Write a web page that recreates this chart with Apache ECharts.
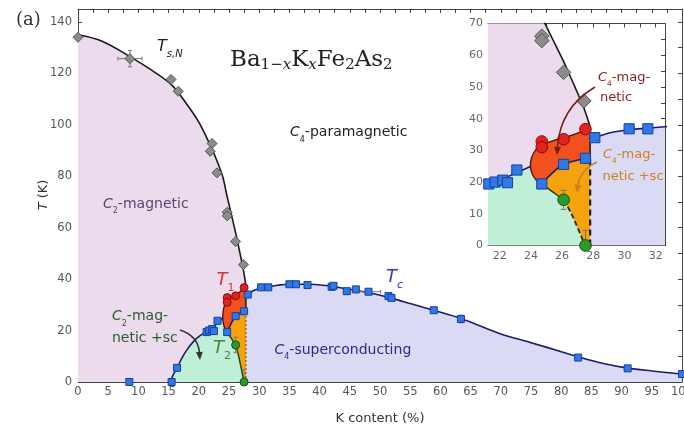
<!DOCTYPE html>
<html>
<head>
<meta charset="utf-8">
<script src="https://cdn.jsdelivr.net/npm/echarts@6/dist/echarts.min.js"></script>
<style>
html, body { margin: 0; padding: 0; background: #fff; }
#chart { width: 684px; height: 425px; }
</style>
</head>
<body>
<div id="chart"></div>
<script>
// Phase diagram of Ba(1-x)K(x)Fe2As2: K content (%) against temperature (K)

// ---- measured transition temperatures ----
// T_s,N (structural / magnetic), grey diamonds
const tsnPoints = [[0,134],[8.6,125.7],[15.4,117.6],[16.6,113],[22.2,92.7],[21.9,89.7],[23,81.3],[24.7,66],[24.7,64.6],[26.1,54.6],[27.4,45.6]];
// T_c (superconducting), blue squares
const tcPoints = [[8.5,0],[15.5,0],[16.4,5.5],[21.3,19.4],[21.7,20],[22.2,20.6],[22.5,19.8],[23.1,23.8],[24.7,19.4],[26.1,25.6],[27.5,27.5],[28.1,34],[30.3,36.8],[31.5,36.8],[35,38],[36.1,38],[38,37.7],[42,37],[42.3,37.4],[44.5,35.3],[46,36],[48.1,35.1],[51.4,33.4],[51.9,32.7],[58.9,27.9],[63.4,24.5],[82.8,9.5],[91,5.3],[100,3.1]];
// T_1 (entry into the C4 magnetic phase), red circles
const t1Points = [[24.7,32.8],[24.7,31],[26.1,33.5],[27.5,36.7]];
// T_2 (exit of the C4 magnetic phase), green circles
const t2Points = [[26.1,14.4],[27.5,0]];
// error bars: [x, T, x error, T error]
const errorBars = [[8.6,125.7,2,3.2],[48.1,35.1,2,0],[63.4,24.5,0,1.5],[26.1,14.4,0,3],[27.5,0,0,4.8]];

// ---- phase boundaries ----
const tsnCurve = [[0,135],[4,132.5],[8.6,126.5],[12,121.5],[15.5,115.5],[18,108],[20,101],[22,91.5],[23,86],[24,79.5],[24.6,73],[25.1,68],[25.6,63],[26.1,58],[26.6,52.5],[27,48],[27.35,44],[27.6,40.5],[27.8,37.3]];
const tcLeftCurve = [[15.3,0],[15.7,2.5],[16.4,5.5],[17.2,9.3],[18,12.4],[19.1,15.7],[20.2,18],[21.3,19.6],[22.2,21],[23.1,23],[23.97,24.9]];
const tcMidCurve = [[24.7,19.4],[25.3,22.5],[26.1,25.6],[27.5,27.5],[27.8,28]];
const tcRightCurve = [[27.8,33.5],[28.1,34],[29,35.5],[30.3,36.5],[31.5,37],[33,37.6],[35,38],[38,38],[41,37.5],[44,36.4],[48,34.8],[52,32.5],[55,30.5],[59,27.8],[63.4,24.7],[70,18.7],[75,15.3],[80,11.8],[82.8,9.8],[87,7.2],[91,5.4],[95,4.3],[100,3.1]];
const t1Curve = [[24.7,19.4],[24.32,20.7],[24.07,22.8],[23.97,24.9],[24.03,27.5],[24.32,30.2],[24.7,31.7],[25.58,33.3],[26.4,34.4],[27.25,35.9],[27.6,36.7],[27.8,37.3]];
const t2Curve = [[24.7,19.4],[25.4,16.9],[26.1,14.4],[26.6,10],[27.05,5],[27.3,2],[27.45,0]];
const orthoEdgeLower = [[27.8,0],[27.8,28]];
const orthoEdgeUpper = [[27.8,28],[27.8,37.3]];

// ---- tick values ----
const mainXLabels = [0,5,10,15,20,25,30,35,40,45,50,55,60,65,70,75,80,85,90,95,100];
const mainXTicks = [0,2.5,5,7.5,10,12.5,15,17.5,20,22.5,25,27.5,30,32.5,35,37.5,40,42.5,45,47.5,50,52.5,55,57.5,60,62.5,65,67.5,70,72.5,75,77.5,80,82.5,85,87.5,90,92.5,95,97.5,100];
const mainYLabels = [0,20,40,60,80,100,120,140];
const mainYTicks = [0,10,20,30,40,50,60,70,80,90,100,110,120,130,140];
const insetXLabels = [22,24,26,28,30,32];
const insetXTicks = [22,23,24,25,26,27,28,29,30,31,32];
const insetYLabels = [0,10,20,30,40,50,60,70];
const insetYTicks = [0,5,10,15,20,25,30,35,40,45,50,55,60,65,70];

// ---- region outlines built from the boundaries ----
const pinkRegion = tsnCurve.concat([[27.8,0],[0,0]]);
const blueRegion = [[27.8,0]].concat(tcRightCurve, [[100,0]]);
const greenRegion = tcLeftCurve.concat(t1Curve.slice(1,3).reverse(), t2Curve);
const redRegion = t1Curve.concat([[27.8,28]], tcMidCurve.slice(0,4).reverse());
const orangeRegion = tcMidCurve.concat([[27.8,0]], t2Curve.slice().reverse());

const SANS = "'DejaVu Sans', sans-serif";
const SERIF = "'DejaVu Serif', serif";

const C = {
  pink: '#ebdbec', lavender: '#dadaf4', mint: '#bfefd6', red: '#f2501e', orange: '#f5a20c',
  navy: '#1c1c6e', squareFill: '#2f78e6', squareEdge: '#163f9c',
  diamondFill: '#8c8c8c', diamondEdge: '#555', redFill: '#e0231c', redEdge: '#8a0a0a',
  greenFill: '#2a9a2a', greenEdge: '#145214'
};

function polygonSeries(pts, color, ax, z) {
  return {
    type: 'custom', xAxisIndex: ax, yAxisIndex: ax, z: z, silent: true, clip: true,
    data: pts, encode: { x: 0, y: 1 },
    renderItem: function (params, api) {
      if (params.dataIndex !== 0) return null;
      return { type: 'polygon', shape: { points: pts.map(function (p) { return api.coord(p); }) }, style: { fill: color } };
    }
  };
}
function curveSeries(pts, color, width, ax, extra) {
  return Object.assign({
    type: 'line', data: pts, xAxisIndex: ax, yAxisIndex: ax, smooth: 0.35, symbol: 'none',
    lineStyle: { color: color, width: width }, z: 4, silent: true
  }, extra || {});
}
function markerSeries(pts, symbol, size, fill, edge, ax) {
  return {
    type: 'scatter', data: pts, xAxisIndex: ax, yAxisIndex: ax, symbol: symbol, symbolSize: size,
    itemStyle: { color: fill, borderColor: edge, borderWidth: 1, opacity: 1 }, z: 6, silent: true
  };
}
function errorSeries(ax, cap) {
  return {
    type: 'custom', xAxisIndex: ax, yAxisIndex: ax, z: 5, silent: true, clip: true,
    data: errorBars, encode: { x: 0, y: 1 },
    renderItem: function (params, api) {
      const x = api.value(0), y = api.value(1), ex = api.value(2), ey = api.value(3);
      const kids = [];
      const st = { stroke: '#777', lineWidth: 1 };
      if (ex > 0) {
        const a = api.coord([x - ex, y]), b = api.coord([x + ex, y]);
        kids.push({ type: 'line', shape: { x1: a[0], y1: a[1], x2: b[0], y2: b[1] }, style: st });
        kids.push({ type: 'line', shape: { x1: a[0], y1: a[1] - cap, x2: a[0], y2: a[1] + cap }, style: st });
        kids.push({ type: 'line', shape: { x1: b[0], y1: b[1] - cap, x2: b[0], y2: b[1] + cap }, style: st });
      }
      if (ey > 0) {
        const a = api.coord([x, y - ey]), b = api.coord([x, y + ey]);
        kids.push({ type: 'line', shape: { x1: a[0], y1: a[1], x2: b[0], y2: b[1] }, style: st });
        kids.push({ type: 'line', shape: { x1: a[0] - cap, y1: a[1], x2: a[0] + cap, y2: a[1] }, style: st });
        kids.push({ type: 'line', shape: { x1: b[0] - cap, y1: b[1], x2: b[0] + cap, y2: b[1] }, style: st });
      }
      return { type: 'group', children: kids };
    }
  };
}

function phaseSeries(ax, inset) {
  const k = inset ? 1.45 : 1;
  const list = [
    polygonSeries(pinkRegion, C.pink, ax, 1),
    polygonSeries(blueRegion, C.lavender, ax, 1),
    polygonSeries(greenRegion, C.mint, ax, 2),
    polygonSeries(redRegion, C.red, ax, 2),
    polygonSeries(orangeRegion, C.orange, ax, 2),
    curveSeries(tsnCurve, '#1a1a1a', 1.6, ax),
    curveSeries(tcLeftCurve, C.navy, 1.6, ax),
    curveSeries(tcMidCurve, C.navy, 1.6, ax),
    curveSeries(tcRightCurve, C.navy, 1.6, ax),
    curveSeries(t1Curve, '#3a1414', 1.3, ax),
    curveSeries(orthoEdgeUpper, '#1a1a1a', 1.5, ax, { smooth: false })
  ];
  if (inset) {
    list.push(curveSeries(t2Curve.slice(0, 3), '#1f3a1f', 1.5, ax));
    list.push(curveSeries(t2Curve.slice(2), '#1f3a1f', 1.8, ax, { lineStyle: { color: '#1f2a1f', width: 1.8, type: [5, 3] } }));
    list.push(curveSeries(orthoEdgeLower, '#1a1a1a', 2, ax, { smooth: false, lineStyle: { color: '#1a1a1a', width: 2.2, type: [6, 4] } }));
  } else {
    list.push(curveSeries(t2Curve, '#1f4a1f', 1.5, ax));
    list.push(curveSeries(orthoEdgeLower, '#b06a10', 1.3, ax, { smooth: false, lineStyle: { color: '#9a5a10', width: 1.3, type: [2, 2] } }));
  }
  list.push(errorSeries(ax, inset ? 3 : 2));
  list.push(markerSeries(tsnPoints, 'diamond', 10 * k, C.diamondFill, C.diamondEdge, ax));
  list.push(markerSeries(tcPoints, 'rect', 7 * k, C.squareFill, C.squareEdge, ax));
  list.push(markerSeries(t1Points, 'circle', 8 * k, C.redFill, C.redEdge, ax));
  list.push(markerSeries(t2Points, 'circle', 8 * k, C.greenFill, C.greenEdge, ax));
  return list;
}

function axisPair(grid, pos, min, max, labels, ticks, showLabel, labelOpts) {
  return {
    type: 'value', gridIndex: grid, position: pos, min: min, max: max,
    axisLine: { show: true, onZero: false, lineStyle: { color: '#444', width: 1 } },
    axisTick: { show: true, inside: true, length: 4, customValues: ticks, lineStyle: { color: '#444' } },
    axisLabel: Object.assign({ show: showLabel, customValues: labels, color: '#555', fontFamily: SANS, fontSize: 11 }, labelOpts || {}),
    splitLine: { show: false }, minorTick: { show: false }
  };
}

// rich text with italic letters and lowered subscripts
function richStyles(fs, color, subFs, subDrop, family) {
  family = family || SANS;
  return {
    n: { fontSize: fs, fontFamily: family, fill: color, lineHeight: fs },
    i: { fontSize: fs, fontFamily: family, fill: color, fontStyle: 'italic', lineHeight: fs },
    s: { fontSize: subFs, fontFamily: family, fill: color, lineHeight: subFs, padding: [subDrop * 2, 0, 0, 0] },
    si: { fontSize: subFs, fontFamily: family, fill: color, fontStyle: 'italic', lineHeight: subFs, padding: [subDrop * 2, 0, 0, 0] }
  };
}
function textEl(x, y, text, fs, color, subFs, subDrop, family) {
  return {
    type: 'text', x: x, y: y, z: 100, silent: true,
    style: { text: text, rich: richStyles(fs, color, subFs, subDrop, family), verticalAlign: 'middle', align: 'left' }
  };
}
function arrow(x1, y1, cx, cy, x2, y2, color) {
  const ang = Math.atan2(y2 - cy, x2 - cx);
  const L = 8, W = 3.5;
  const bx = x2 - L * Math.cos(ang), by = y2 - L * Math.sin(ang);
  const px = -Math.sin(ang) * W, py = Math.cos(ang) * W;
  return [
    { type: 'bezierCurve', z: 100, silent: true, shape: { x1: x1, y1: y1, cpx1: cx, cpy1: cy, x2: bx, y2: by }, style: { stroke: color, lineWidth: 1.5, fill: null } },
    { type: 'polygon', z: 100, silent: true, shape: { points: [[x2, y2], [bx + px, by + py], [bx - px, by - py]] }, style: { fill: color } }
  ];
}

const graphics = [
  { type: 'text', x: 16, y: 20, z: 100, style: { text: '(a)', font: "18px 'DejaVu Serif'", fill: '#333', verticalAlign: 'middle' } },
  textEl(230, 60, '{n|Ba}{s|1−}{si|x}{n|K}{si|x}{n|Fe}{s|2}{n|As}{s|2}', 23, '#222', 15, 5, SERIF),
  textEl(157, 47.3, '{i|T}{si|s,N}', 16, '#222', 10, 7.5),
  textEl(290, 132.8, '{i|C}{s|4}{n|-paramagnetic}', 14, '#222', 8, 7),
  textEl(103, 204.3, '{i|C}{s|2}{n|-magnetic}', 14, '#5e4570', 8, 7),
  textEl(112, 316.7, '{i|C}{s|2}{n|-mag-}', 14, '#2c5a2c', 8, 7),
  textEl(112, 338.3, '{n|netic +sc}', 14, '#2c5a2c', 8, 7),
  textEl(216.5, 280.3, '{i|T}{s|1}', 18, '#e0303a', 11, 8),
  textEl(213, 348.5, '{i|T}{s|2}', 18, '#3a8a3a', 11, 8),
  textEl(386, 277, '{i|T}{si|c}', 18, '#3a3aa8', 11, 8),
  textEl(274.5, 350.3, '{i|C}{s|4}{n|-superconducting}', 14, '#2a2a8c', 8, 7),
  textEl(598, 78, '{i|C}{s|4}{n|-mag-}', 13, '#8a1a1a', 7.5, 6),
  textEl(600, 98, '{n|netic}', 13, '#8a1a1a', 7.5, 6),
  textEl(603, 155, '{i|C}{s|4}{n|-mag-}', 13, '#d0801c', 7.5, 6),
  textEl(602.5, 176.7, '{n|netic +sc}', 13, '#d0801c', 7.5, 6),
  { type: 'text', x: 380, y: 419, z: 100, style: { text: 'K content (%)', font: "13px 'DejaVu Sans'", fill: '#333', align: 'center', verticalAlign: 'middle' } },
  { type: 'text', x: 44, y: 195, z: 100, rotation: Math.PI / 2,
    style: { text: '{i|T}{n| (K)}', align: 'center', verticalAlign: 'middle',
      rich: { i: { fontSize: 13, fontFamily: SANS, fontStyle: 'italic', fill: '#333' }, n: { fontSize: 13, fontFamily: SANS, fill: '#333' } } } }
].concat(
  arrow(180, 330, 198, 336, 200, 360, '#333'),
  arrow(595, 87, 560, 108, 557, 155, '#7a1a1a'),
  arrow(597, 162, 580, 170, 577, 193, '#c8801a')
);

const option = {
  animation: false,
  backgroundColor: '#fff',
  grid: [
    { left: 78, top: 9, width: 604, height: 373, outerBoundsMode: 'none', show: false },
    { left: 488, top: 23.5, width: 177, height: 222, outerBoundsMode: 'none', show: false }
  ],
  xAxis: [
    axisPair(0, 'bottom', 0, 100, mainXLabels, mainXTicks, true, { margin: 4, fontSize: 11.5 }),
    axisPair(0, 'top', 0, 100, mainXLabels, mainXTicks, false),
    axisPair(1, 'bottom', 21.25, 32.6, insetXLabels, insetXTicks, true, { margin: 5, fontSize: 11, color: '#666' }),
    axisPair(1, 'top', 21.25, 32.6, insetXLabels, insetXTicks, false)
  ],
  yAxis: [
    axisPair(0, 'left', 0, 145, mainYLabels, mainYTicks, true, { margin: 6, fontSize: 11.5 }),
    axisPair(0, 'right', 0, 145, mainYLabels, mainYTicks, false),
    axisPair(1, 'left', 0, 70, insetYLabels, insetYTicks, true, { margin: 5, fontSize: 11, color: '#666' }),
    axisPair(1, 'right', 0, 70, insetYLabels, insetYTicks, false)
  ],
  series: phaseSeries(0, false).concat(phaseSeries(2, true)),
  graphic: graphics
};

const chart = echarts.init(document.getElementById('chart'), null, { renderer: 'canvas' });
chart.setOption(option);
</script>
</body>
</html>
